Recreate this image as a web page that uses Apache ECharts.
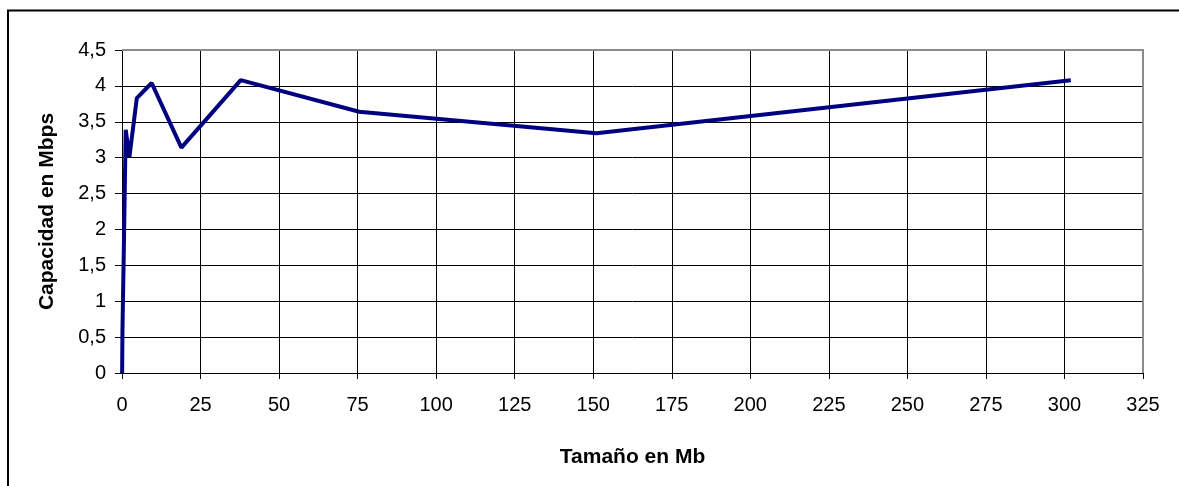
<!DOCTYPE html>
<html>
<head>
<meta charset="utf-8">
<script src="https://cdn.jsdelivr.net/npm/echarts@6/dist/echarts.min.js"></script>
<style>
html,body{margin:0;padding:0;background:#fff;}
#chart{width:1179px;height:486px;}
</style>
</head>
<body>
<div id="chart"></div>
<script>
// Data
var sizesMb = [0.04, 0.15, 0.59, 1.18, 2.36, 4.72, 9.44, 18.9, 37.8, 75.5, 151, 302];
var capacityMbps = [0.0, 0.6, 1.74, 3.39, 3.01, 3.83, 4.04, 3.14, 4.08, 3.64, 3.34, 4.08];
var xTitle = 'Tamaño en Mb';
var yTitle = 'Capacidad en Mbps';

var FONT = '"Liberation Sans", Arial, sans-serif';
var chart = echarts.init(document.getElementById('chart'), null, {renderer: 'canvas'});
var pts = sizesMb.map(function (x, i) { return [x, capacityMbps[i]]; });

chart.setOption({
  animation: false,
  backgroundColor: '#ffffff',
  grid: {left: 122, right: 36, top: 50, bottom: 113, show: false},
  xAxis: {
    type: 'value', min: 0, max: 325, interval: 25,
    name: xTitle, nameLocation: 'middle', nameGap: 74,
    nameTextStyle: {fontFamily: FONT, fontSize: 21, fontWeight: 'bold', color: '#000'},
    axisLine: {show: true, onZero: false, lineStyle: {color: '#000', width: 1}},
    axisTick: {show: true, inside: false, length: 6, lineStyle: {color: '#000'}},
    axisLabel: {fontFamily: FONT, fontSize: 20, color: '#000', margin: 22},
    splitLine: {show: true, lineStyle: {color: '#000', width: 1}}
  },
  yAxis: {
    type: 'value', min: 0, max: 4.5, interval: 0.5,
    name: yTitle, nameLocation: 'middle', nameGap: 64, nameRotate: 90,
    nameTextStyle: {fontFamily: FONT, fontSize: 21, fontWeight: 'bold', color: '#000'},
    axisLine: {show: true, lineStyle: {color: '#000', width: 1}},
    axisTick: {show: true, inside: false, length: 7, lineStyle: {color: '#000'}},
    axisLabel: {fontFamily: FONT, fontSize: 20, color: '#000', margin: 16,
      formatter: function (v) { return String(v).replace('.', ','); }},
    splitLine: {show: true, lineStyle: {color: '#000', width: 1}}
  },
  series: [{
    type: 'line', data: pts, showSymbol: false, symbol: 'none',
    lineStyle: {color: '#000080', width: 4}, z: 5
  }]
});

var tl = chart.convertToPixel({xAxisIndex: 0, yAxisIndex: 0}, [0, 4.5]);
var br = chart.convertToPixel({xAxisIndex: 0, yAxisIndex: 0}, [325, 0]);
chart.setOption({
  graphic: [
    {type: 'polyline', z: 100, silent: true,
      shape: {points: [[8, 490], [8, 10.5], [1185, 10.5]]},
      style: {fill: 'none', stroke: '#000', lineWidth: 2}},
    {type: 'polyline', z: 100, silent: true,
      shape: {points: [[tl[0], tl[1]], [br[0], tl[1]], [br[0], br[1]]]},
      style: {fill: 'none', stroke: '#8c8c8c', lineWidth: 2}}
  ]
});
</script>
</body>
</html>
